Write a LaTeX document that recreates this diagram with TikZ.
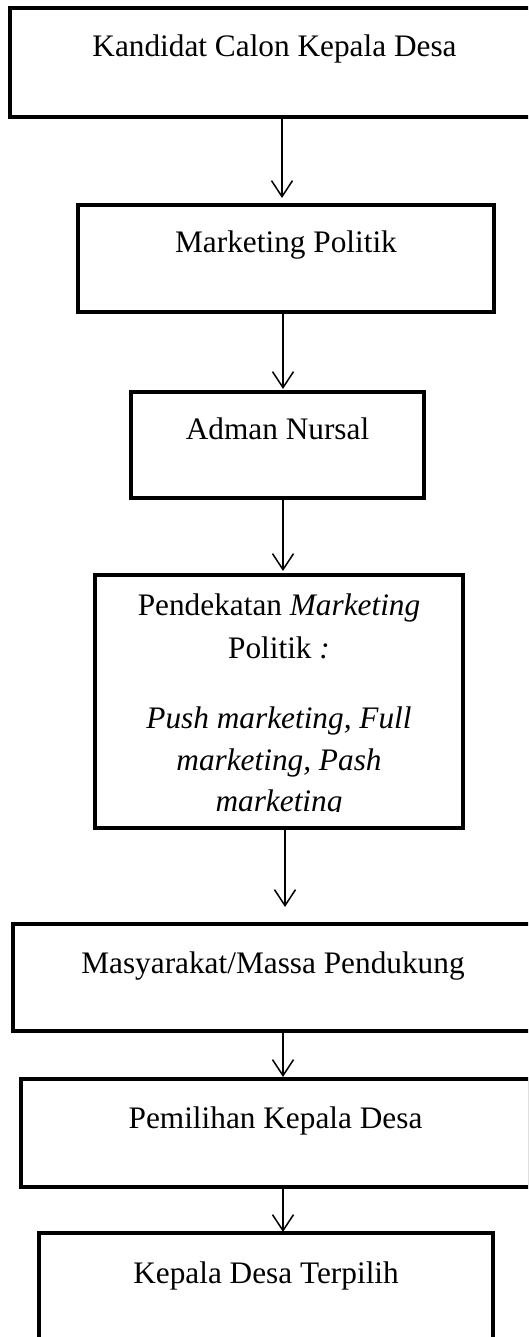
\documentclass[tikz,border=0pt]{standalone}
\usepackage{fontspec}
\setmainfont{Liberation Serif}
\usetikzlibrary{arrows.meta}
\begin{document}
\begin{tikzpicture}[x=1pt,y=-1pt,
  boxnode/.style={draw=black, line width=4.5pt, inner sep=0pt, outer sep=0pt},
  txt/.style={anchor=base, inner sep=0pt, outer sep=0pt, font=\fontsize{31.3pt}{42pt}\selectfont},
  conn/.style={line width=1.5pt, -{Straight Barb[length=16pt,width=21pt]}}]
\useasboundingbox (0,0) rectangle (528,1337);
\fill[white] (0,0) rectangle (528,1337);
\clip (0,0) rectangle (528,1337);
% boxes
\node[boxnode, minimum width=529pt, minimum height=109pt] (b1) at (274.5,62.5) {};
\node[boxnode, minimum width=416pt, minimum height=107pt] (b2) at (286,258.5) {};
\node[boxnode, minimum width=293pt, minimum height=106pt] (b3) at (277.5,445) {};
\node[boxnode, minimum width=368pt, minimum height=253pt] (b4) at (279,701.5) {};
\node[boxnode, minimum width=520pt, minimum height=107pt] (b5) at (273,977.5) {};
\node[boxnode, minimum width=509pt, minimum height=108pt] (b6) at (275.5,1133) {};
\node[boxnode, minimum width=454pt, minimum height=112pt] (b7) at (266,1289) {};
% texts
\node[txt] (t1) at (274.5,57) {Kandidat Calon Kepala Desa};
\node[txt] (t2) at (286,253) {Marketing Politik};
\node[txt] (t3) at (277.5,439) {Adman Nursal};
\node[txt] (t4a) at (279,615) {Pendekatan \textit{Marketing}};
\node[txt] (t4b) at (279,658) {Politik \textit{:}};
\node[txt] (t4c) at (279,728) {\textit{Push marketing, Full}};
\node[txt] (t4d) at (279,770) {\textit{marketing, Pash}};
\begin{scope}
\clip (97,577) rectangle (461,811);
\node[txt] (t4e) at (279,811) {\textit{marketing}};
\end{scope}
\node[txt] (t5) at (273,973) {Masyarakat/Massa Pendukung};
\node[txt] (t6) at (275.5,1128) {Pemilihan Kepala Desa};
\node[txt] (t7) at (266,1283) {Kepala Desa Terpilih};
% connectors
\coordinate (x1) at (282,0);
\coordinate (x2) at (283,0);
\coordinate (x3) at (283,0);
\coordinate (x4) at (285,0);
\coordinate (x5) at (283,0);
\coordinate (x6) at (283,0);
\draw[conn, shorten >=7pt] (b1.south -| x1) -- (b2.north -| x1);
\draw[conn, shorten >=3pt] (b2.south -| x2) -- (b3.north -| x2);
\draw[conn, shorten >=4pt] (b3.south -| x3) -- (b4.north -| x3);
\draw[conn, shorten >=17pt] (b4.south -| x4) -- (b5.north -| x4);
\draw[conn, shorten >=2pt] (b5.south -| x5) -- (b6.north -| x5);
\draw[conn, shorten >=1pt] (b6.south -| x6) -- (b7.north -| x6);
\end{tikzpicture}
\end{document}
